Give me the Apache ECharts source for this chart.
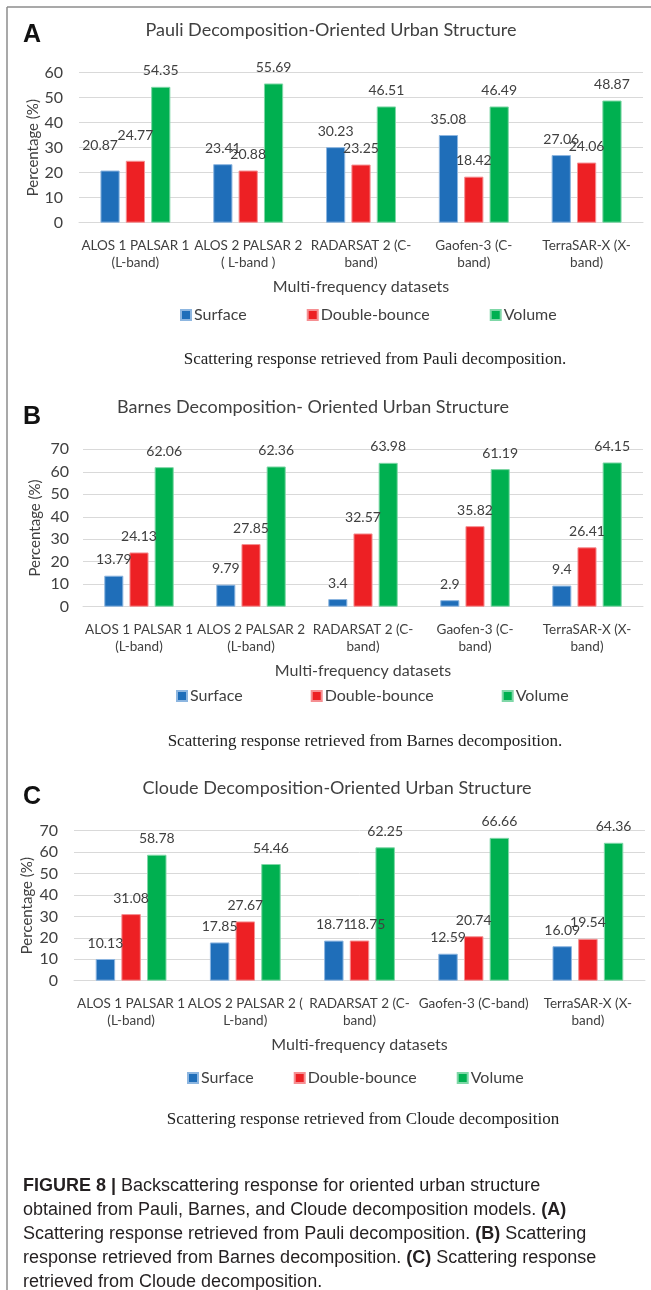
<!DOCTYPE html>
<html>
<head>
<meta charset="utf-8">
<script src="https://cdn.jsdelivr.net/npm/echarts@6/dist/echarts.min.js"></script>
<style>
  html, body { margin: 0; padding: 0; background: #ffffff; }
  #chart { width: 651px; height: 1290px; }
</style>
</head>
<body>
<div id="chart"></div>
<script>
// ---- Data ----------------------------------------------------------------
const seriesNames = ['Surface', 'Double-bounce', 'Volume'];

const categoriesA = ['ALOS 1 PALSAR 1\n(L-band)', 'ALOS 2 PALSAR 2\n( L-band )', 'RADARSAT 2 (C-\nband)', 'Gaofen-3 (C-\nband)', 'TerraSAR-X (X-\nband)'];
const categoriesB = ['ALOS 1 PALSAR 1\n(L-band)', 'ALOS 2 PALSAR 2\n(L-band)', 'RADARSAT 2 (C-\nband)', 'Gaofen-3 (C-\nband)', 'TerraSAR-X (X-\nband)'];
const categoriesC = ['ALOS 1 PALSAR 1\n(L-band)', 'ALOS 2 PALSAR 2 (\nL-band)', 'RADARSAT 2 (C-\nband)', 'Gaofen-3 (C-band)', 'TerraSAR-X (X-\nband)'];

const pauliSurface = [20.87, 23.41, 30.23, 35.08, 27.06];
const pauliDouble  = [24.77, 20.88, 23.25, 18.42, 24.06];
const pauliVolume  = [54.35, 55.69, 46.51, 46.49, 48.87];

const barnesSurface = [13.79, 9.79, 3.4, 2.9, 9.4];
const barnesDouble  = [24.13, 27.85, 32.57, 35.82, 26.41];
const barnesVolume  = [62.06, 62.36, 63.98, 61.19, 64.15];

const cloudeSurface = [10.13, 17.85, 18.71, 12.59, 16.09];
const cloudeDouble  = [31.08, 27.67, 18.75, 20.74, 19.54];
const cloudeVolume  = [58.78, 54.46, 62.25, 66.66, 64.36];

const yMaxA = 60, yMaxB = 70, yMaxC = 70, yStep = 10;

const titleA = 'Pauli Decomposition-Oriented Urban Structure';
const titleB = 'Barnes Decomposition- Oriented Urban Structure';
const titleC = 'Cloude Decomposition-Oriented Urban Structure';
const subA = 'Scattering response retrieved from Pauli decomposition.';
const subB = 'Scattering response retrieved from Barnes decomposition.';
const subC = 'Scattering response retrieved from Cloude decomposition';
const xName = 'Multi-frequency datasets';
const yName = 'Percentage (%)';

// ---- Styling -------------------------------------------------------------
const colors = ['#1f6eb9', '#ed2024', '#00b050'];
const edge = ['#8db6e0', '#f58f92', '#7fd7a7'];
const sans = 'Lato, "Open Sans", sans-serif';
const ink = '#404040';

// hand-placed value labels (panel, series, category) -> [dx, dy]
const labelNudges = [
  { p: 0, s: 0, c: 0, off: [-10, -9] },
  { p: 0, s: 1, c: 0, off: [0, -9] },
  { p: 2, s: 1, c: 2, off: [8, 0] }
];

const panels = [
  { title: titleA, cats: categoriesA, vals: [pauliSurface, pauliDouble, pauliVolume], max: yMaxA,
    grid: { left: 79, right: 8, top: 72.7, height: 150 }, tx: 331, ty: 31, letter: 'A', ly: 36,
    legLeft: 180, legY: 316, legGap: 60, sub: subA, sx: 375, sy: 360, yGap: 38, yMargin: 16 },
  { title: titleB, cats: categoriesB, vals: [barnesSurface, barnesDouble, barnesVolume], max: yMaxB,
    grid: { left: 83, right: 8, top: 449.3, height: 157.4 }, tx: 313, ty: 408, letter: 'B', ly: 418,
    legLeft: 176, legY: 697, legGap: 68, sub: subB, sx: 365, sy: 742, yGap: 40, yMargin: 14 },
  { title: titleC, cats: categoriesC, vals: [cloudeSurface, cloudeDouble, cloudeVolume], max: yMaxC,
    grid: { left: 74, right: 6, top: 830.7, height: 150 }, tx: 337, ty: 789, letter: 'C', ly: 798,
    legLeft: 187, legY: 1079, legGap: 40, sub: subC, sx: 363, sy: 1120, yGap: 39, yMargin: 16 }
];

const option = {
  backgroundColor: '#ffffff',
  animation: false,
  title: [], grid: [], xAxis: [], yAxis: [], legend: [], series: [], graphic: []
};

panels.forEach((p, i) => {
  option.title.push({
    text: p.title, left: p.tx, top: p.ty - 10, textAlign: 'center', padding: 0,
    textStyle: { fontFamily: sans, fontSize: 18, fontWeight: 'normal', color: ink }
  });
  option.grid.push(p.grid);
  option.xAxis.push({
    type: 'category', gridIndex: i, data: p.cats,
    name: xName, nameLocation: 'middle', nameGap: 56, nameMoveOverlap: false,
    nameTextStyle: { fontFamily: sans, fontSize: 16, color: ink },
    axisLine: { lineStyle: { color: '#d9d9d9', width: 1 } },
    axisTick: { show: false },
    axisLabel: { interval: 0, fontFamily: sans, fontSize: 13.5, lineHeight: 17, color: ink, margin: 14 }
  });
  option.yAxis.push({
    type: 'value', gridIndex: i, min: 0, max: p.max, interval: yStep,
    name: yName, nameLocation: 'middle', nameGap: p.yGap, nameMoveOverlap: false,
    nameTextStyle: { fontFamily: sans, fontSize: 15, color: ink },
    axisLine: { show: false }, axisTick: { show: false },
    axisLabel: { fontFamily: sans, fontSize: 16, color: ink, margin: p.yMargin },
    splitLine: { lineStyle: { color: '#d9d9d9', width: 1 } }
  });
  option.legend.push({
    data: seriesNames, left: p.legLeft, top: p.legY - 9, padding: 0,
    itemWidth: 10, itemHeight: 10, itemGap: p.legGap, icon: 'rect',
    selectedMode: false,
    textStyle: { fontFamily: sans, fontSize: 16, color: ink, padding: [0, 0, 0, -2] }
  });
  p.vals.forEach((arr, s) => {
    option.series.push({
      type: 'bar', name: seriesNames[s], xAxisIndex: i, yAxisIndex: i,
      barCategoryGap: '38%', barGap: '32%',
      itemStyle: { color: colors[s], borderColor: edge[s], borderWidth: 1 },
      label: { show: true, position: 'top', distance: 9, fontFamily: sans, fontSize: 14, color: ink },
      data: arr.map((v, c) => {
        const n = labelNudges.find(q => q.p === i && q.s === s && q.c === c);
        return n ? { value: v, label: { offset: n.off } } : v;
      })
    });
  });
  option.graphic.push({
    type: 'text', left: 23, top: p.ly - 13,
    style: { text: p.letter, font: 'bold 25px "Liberation Sans", Arial, sans-serif', fill: '#111' }
  });
  option.graphic.push({
    type: 'text', x: p.sx, y: p.sy,
    style: { text: p.sub, font: '17px "Liberation Serif", "Times New Roman", serif', fill: '#222',
      textAlign: 'center', textVerticalAlign: 'middle' }
  });
});

// frame lines
option.graphic.push({ type: 'line', shape: { x1: 7, y1: 7, x2: 651, y2: 7 }, style: { stroke: '#8c8c8c', lineWidth: 1.5 } });
option.graphic.push({ type: 'line', shape: { x1: 7, y1: 7, x2: 7, y2: 1290 }, style: { stroke: '#8c8c8c', lineWidth: 1.5 } });

// figure caption
option.graphic.push({
  type: 'text', x: 23, y: 1174,
  style: {
    text: '{b|FIGURE 8 |} Backscattering response for oriented urban structure\n' +
          'obtained from Pauli, Barnes, and Cloude decomposition models. {b|(A)}\n' +
          'Scattering response retrieved from Pauli decomposition. {b|(B)} Scattering\n' +
          'response retrieved from Barnes decomposition. {b|(C)} Scattering response\n' +
          'retrieved from Cloude decomposition.',
    font: '18px "Liberation Sans", Arial, sans-serif', fill: '#231f20', lineHeight: 24,
    rich: { b: { fontWeight: 'bold', fontFamily: '"Liberation Sans", Arial, sans-serif', fontSize: 18, fill: '#231f20', lineHeight: 24 } }
  }
});

const chart = echarts.init(document.getElementById('chart'), null, { renderer: 'canvas' });
chart.setOption(option);
</script>
</body>
</html>
